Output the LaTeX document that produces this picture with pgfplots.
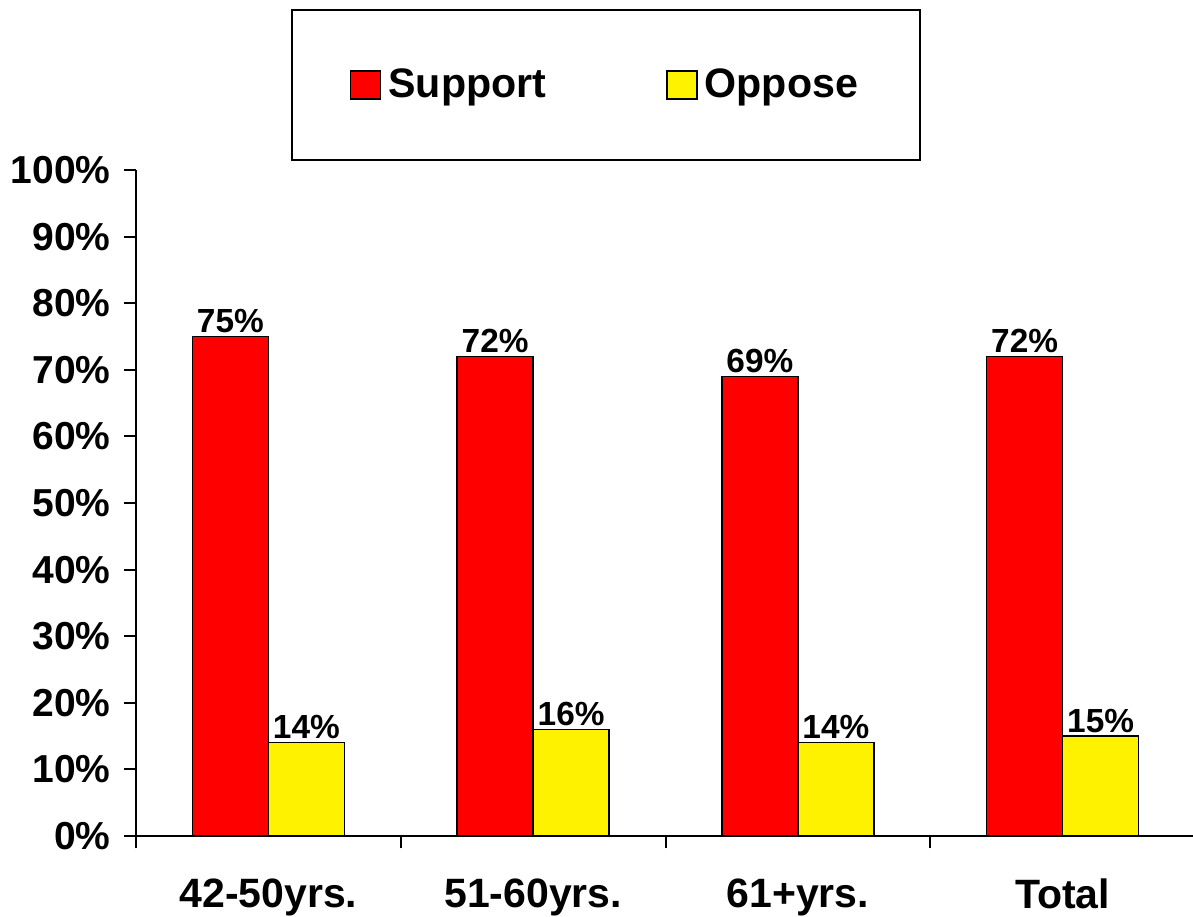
\documentclass[border=0pt]{standalone}
\usepackage{pgfplots}
\pgfplotsset{compat=1.18}
\usepackage{fontspec}
\setmainfont{Liberation Sans}
\begin{document}
\begin{tikzpicture}
\begin{axis}[
  name=ax,
  scale only axis,
  width=529.5pt, height=333pt,
  xmin=-0.5, xmax=3.5, ymin=0, ymax=100,
  axis x line=bottom, axis y line=left,
  axis line style={-, line width=1pt, black},
  tick align=outside,
  ytick={0,10,...,100},
  yticklabel={\pgfmathprintnumber{\tick}\%},
  yticklabel style={font=\fontsize{19.5}{22}\selectfont\bfseries, xshift=-3pt},
  tick style={line width=1pt, black},
  major tick length=6.2pt,
  /pgf/number format/assume math mode=true,
  xtick={-0.5,0.5,1.5,2.5,3.5},
  xticklabels={},
  extra x ticks={0,1,2,3},
  extra x tick labels={42-50yrs., 51-60yrs., 61+yrs., Total},
  extra x tick style={major tick length=0pt,
    xticklabel style={font=\fontsize{20.5}{24}\selectfont\bfseries, yshift=-18pt}},
  ybar,
  bar width=38pt,
  nodes near coords={\pgfmathprintnumber{\pgfplotspointmeta}\%},
  every node near coord/.append style={font=\fontsize{16.7}{19}\selectfont\bfseries, black, inner sep=1.5pt},
  legend style={at={(0.4438,1.1276)}, anchor=center, draw=black, line width=0.7pt,
    legend columns=2, font=\fontsize{20.6}{24}\selectfont\bfseries,
    inner xsep=29pt, inner ysep=27.5pt,
    /tikz/every odd column/.append style={column sep=1.5pt},
    /tikz/every even column/.append style={column sep=58pt}},
  legend image code/.code={\draw[#1, draw=black, line width=0.7pt] (0pt,-7pt) rectangle (15pt,7pt);},
]
\addplot[fill=red, draw=black, line width=0.7pt, bar shift=-19pt] coordinates {(0,75) (1,72) (2,69) (3,72)};
\addplot[fill=yellow, draw=black, line width=0.7pt, bar shift=19pt] coordinates {(0,14) (1,16) (2,14) (3,15)};
\legend{Support, Oppose}
\end{axis}
\pgfresetboundingbox
\path (ax.south west) ++(-68pt,-40pt) coordinate (bl);
\path (ax.south west) ++(528.5pt,418pt) coordinate (tr);
\path[use as bounding box] (bl) rectangle (tr);
\end{tikzpicture}
\end{document}
